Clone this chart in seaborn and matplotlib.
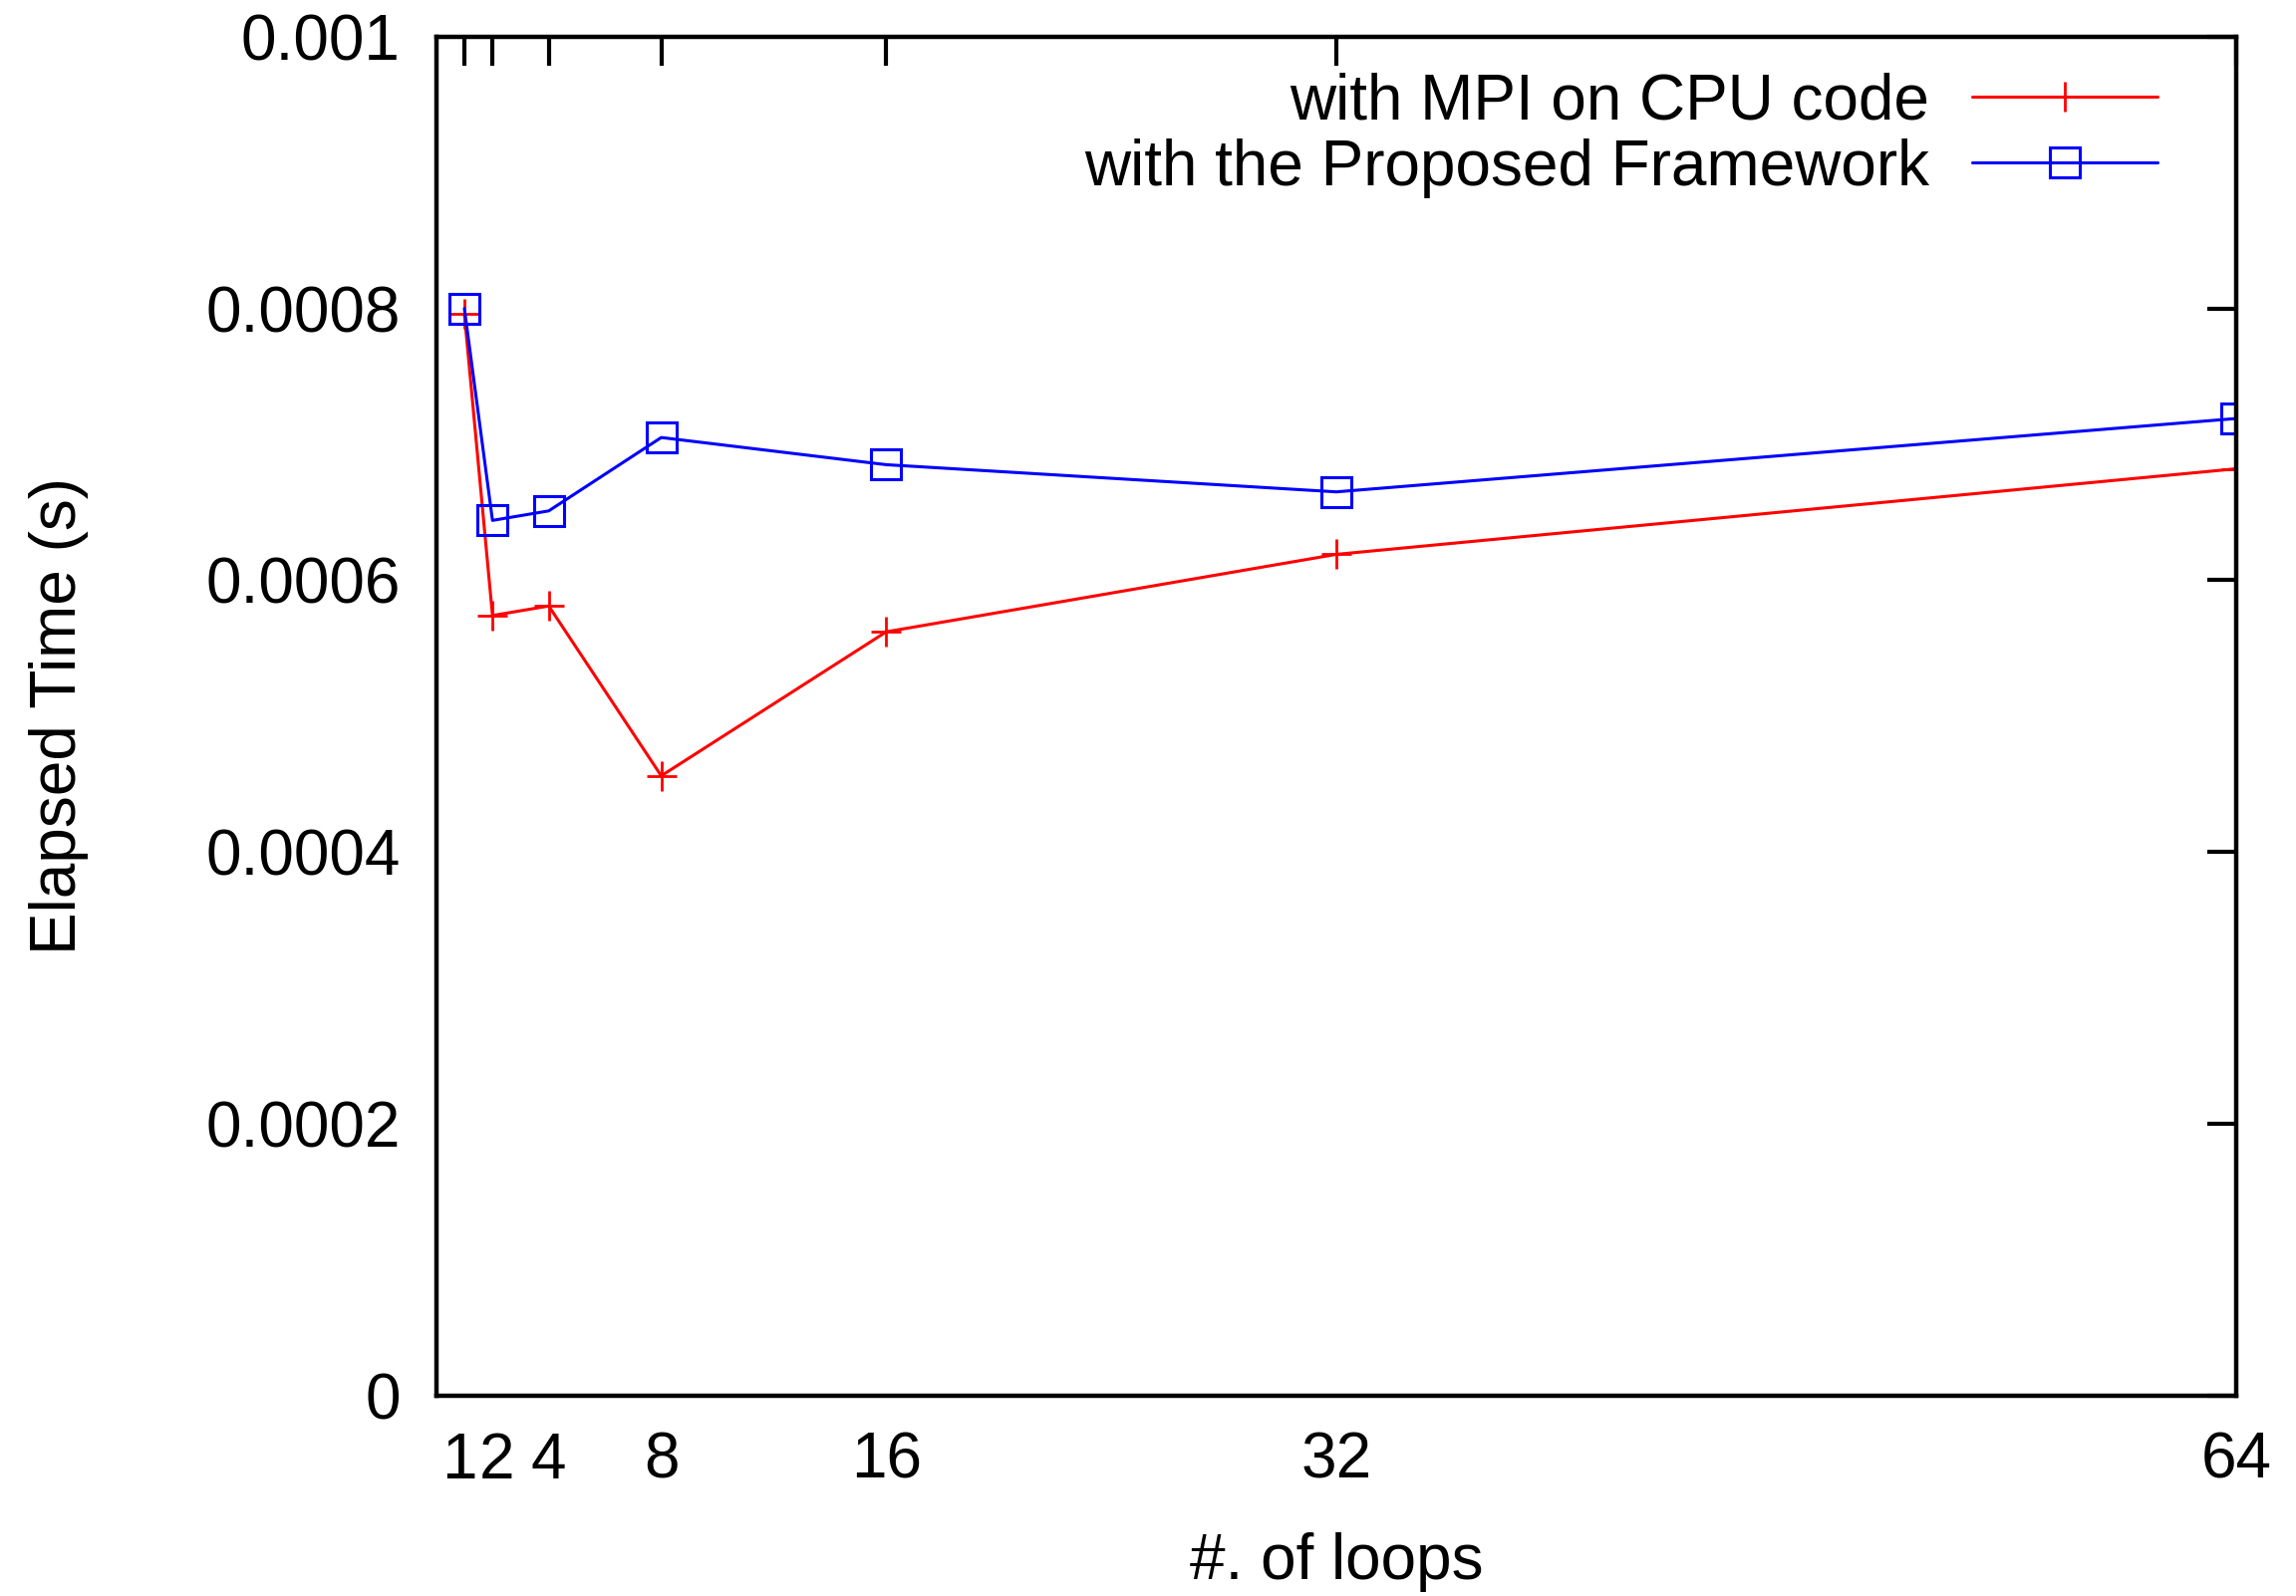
import matplotlib
matplotlib.use("Agg")
import matplotlib.pyplot as plt
import matplotlib.transforms as mtransforms
import seaborn as sns
import pandas as pd

loops = [1, 2, 4, 8, 16, 32, 64]
mpi_cpu = [0.000796, 0.000574, 0.000581, 0.000456, 0.000562, 0.000619, 0.000682]
framework = [0.000800, 0.000644, 0.000651, 0.000705, 0.000685, 0.000665, 0.000719]
x_ticks = [1, 2, 4, 8, 16, 32, 64]
y_ticks = [0, 0.0002, 0.0004, 0.0006, 0.0008, 0.001]
y_tick_labels = ["0", "0.0002", "0.0004", "0.0006", "0.0008", "0.001"]

sns.set_style("white")
plt.rcParams['font.family'] = ['Liberation Sans', 'DejaVu Sans']

FS = 46
fig = plt.figure(figsize=(23.04, 16.02), dpi=100)
ax = fig.add_axes([0.190, 0.1257, 0.784, 0.8513])

df = pd.DataFrame({"loops": loops, "mpi": mpi_cpu, "fw": framework})
sns.lineplot(data=df, x="loops", y="mpi", ax=ax, color="red", linewidth=2.2,
             marker="+", markersize=22, markeredgewidth=2.0,
             markeredgecolor="red",
             label="with MPI on CPU code")
sns.lineplot(data=df, x="loops", y="fw", ax=ax, color="blue", linewidth=2.2,
             marker="s", markersize=21, markerfacecolor="none",
             markeredgecolor="blue", markeredgewidth=2.2,
             label="with the Proposed Framework")

ax.set_xlim(0, 64)
ax.set_ylim(0, 0.001)
ax.set_xticks(x_ticks)
ax.set_xticklabels([str(v) for v in x_ticks])
ax.set_yticks(y_ticks)
ax.set_yticklabels(y_tick_labels)
ax.tick_params(axis="both", which="major", direction="in", length=21, width=3,
               top=True, right=True, labelsize=FS, colors="black")
ax.tick_params(axis="y", pad=26)
ax.tick_params(axis="x", pad=26)
for s in ax.spines.values():
    s.set_linewidth(3.2)
    s.set_color("black")
ax.grid(False)

# nudge the crowded "1" and "2" labels apart slightly so they do not collide
xlabels = ax.get_xticklabels()
for lab, dx in ((xlabels[0], -5), (xlabels[1], 4)):
    lab.set_transform(lab.get_transform() +
                      mtransforms.ScaledTranslation(dx / 100, 0, fig.dpi_scale_trans))

ax.set_xlabel("#. of loops", fontsize=FS, labelpad=30, color="black")
ax.set_ylabel("Elapsed Time (s)", fontsize=FS, labelpad=84, color="black")

leg = ax.legend(loc="upper right", bbox_to_anchor=(0.956, 0.974), frameon=False,
                markerfirst=False, fontsize=FS, handlelength=2.9,
                handletextpad=0.67, labelspacing=0.1, borderpad=0, borderaxespad=0)
for t in leg.get_texts():
    t.set_color("black")

fig.savefig("out.png", dpi=100, facecolor="white")
